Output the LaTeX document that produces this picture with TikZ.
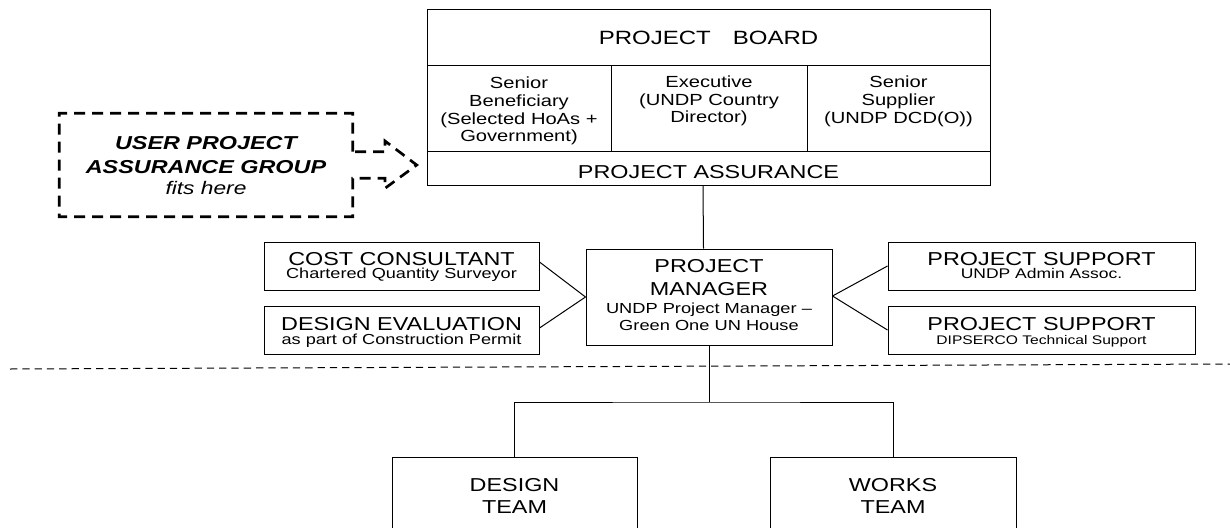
\documentclass[tikz,border=0pt]{standalone}
\usepackage{fontspec}
\setmainfont{Liberation Sans}[FakeStretch=1.25]
\begin{document}
\begin{tikzpicture}[x=1pt,y=-1pt,
  box/.style={draw, line width=1pt, inner sep=0pt, anchor=center},
  big/.style={inner sep=0pt, align=center, font=\fontsize{18.7}{21.3}\selectfont},
  mid/.style={inner sep=0pt, align=center, font=\fontsize{16.1}{17.7}\selectfont},
  small/.style={inner sep=0pt, font=\fontsize{14.5}{16}\selectfont},
  link/.style={draw, line width=1pt},
  sepline/.style={draw, line width=1pt, dash pattern=on 7.3pt off 5pt},
  callout/.style={draw, line width=2.7pt, dash pattern=on 11pt off 7pt}]
\useasboundingbox (0,0) rectangle (1230,527);
% project board
\node[box, minimum width=563, minimum height=55] (board) at (708.5,37.5) {};
\node[big, font=\fontsize{19.2}{21}\selectfont] (boardt) at (708.5,37.5) {PROJECT\hspace{22pt}BOARD};
\node[box, minimum width=184, minimum height=86] (sb) at (519,108) {};
\node[box, minimum width=196, minimum height=86] (ex) at (709,108) {};
\node[box, minimum width=183, minimum height=86] (ss) at (898.5,108) {};
\node[box, minimum width=563, minimum height=34] (pa) at (708.5,168) {};
\node[mid] (sbt) at (519,111) {Senior\\Beneficiary\\(Selected HoAs +\\Government)};
\node[mid] (ext) at (709,101) {Executive\\(UNDP Country\\Director)};
\node[mid] (sst) at (898.5,101.5) {Senior\\Supplier\\(UNDP DCD(O))};
\node[big] (pat) at (708.5,172) {PROJECT ASSURANCE};
% user project assurance callout
\path[callout] (352.7,151.7) -- (352.7,113.3) -- (59.3,113.3) -- (59.3,216.7)
  -- (352.7,216.7) -- (352.7,178.3) -- (385,178.3) -- (385,188.3) -- (416.7,165)
  -- (385,141) -- (385,151.7) -- cycle;
\node[inner sep=0pt, align=center, font=\fontsize{18.7}{24}\selectfont\bfseries\itshape] (uag) at (206,155.3) {USER PROJECT\\ASSURANCE GROUP};
\node[inner sep=0pt, anchor=base, font=\fontsize{18.2}{20}\selectfont\itshape] (fits) at (206,194) {fits here};
% project manager
\node[box, minimum width=246, minimum height=96] (pm) at (709,297) {};
\node[big, font=\fontsize{18.7}{22.4}\selectfont] (pmt) at (709,277.5) {PROJECT\\MANAGER};
\node[inner sep=0pt, align=center, font=\fontsize{14.6}{16.7}\selectfont] (pms) at (709,317) {UNDP Project Manager --\\Green One UN House};
% side boxes
\node[box, minimum width=275, minimum height=48] (cc) at (401.5,266) {};
\node[big, anchor=base] (cct) at (401.5,265.3) {COST CONSULTANT};
\node[small, anchor=base] (ccs) at (401.5,278.3) {Chartered Quantity Surveyor};
\node[box, minimum width=275, minimum height=48] (de) at (401.5,330) {};
\node[big, anchor=base] (det) at (401.5,330.6) {DESIGN EVALUATION};
\node[small, anchor=base] (des) at (401.5,344.3) {as part of Construction Permit};
\node[box, minimum width=307, minimum height=48] (ps1) at (1041.5,266) {};
\node[big, anchor=base] (ps1t) at (1041.5,265.3) {PROJECT SUPPORT};
\node[small, anchor=base, font=\fontsize{14}{16}\selectfont] (ps1s) at (1041.5,278.3) {UNDP Admin Assoc.};
\node[box, minimum width=307, minimum height=48] (ps2) at (1041.5,330) {};
\node[big, anchor=base] (ps2t) at (1041.5,330.6) {PROJECT SUPPORT};
\node[small, anchor=base, font=\fontsize{12.5}{14}\selectfont] (ps2s) at (1041.5,344.3) {DIPSERCO Technical Support};
% teams
\node[box, big, minimum width=245, minimum height=78] (design) at (514.5,496) {DESIGN\\TEAM};
\node[box, big, minimum width=246, minimum height=78] (works) at (893,496) {WORKS\\TEAM};
% connectors
\draw[link] ([xshift=-5.5pt]pa.south) -- ([xshift=-5.5pt]pm.north);
\draw[link] ([yshift=4pt]cc.east) -- (pm.west);
\draw[link] ([yshift=2pt]de.east) -- (pm.west);
\draw[link] ([yshift=1pt]pm.east) -- (ps1.west);
\draw[link] ([yshift=1pt]pm.east) -- (ps2.west);
\coordinate (jn) at (709,402);
\draw[link] (pm.south) -- (jn);
\draw[link] (design.north) |- (jn) -| (works.north);
% separator
\coordinate (sepl) at (10,369);
\coordinate (sepr) at (1230,364);
\draw[sepline] (sepl) -- (sepr);
\end{tikzpicture}
\end{document}
